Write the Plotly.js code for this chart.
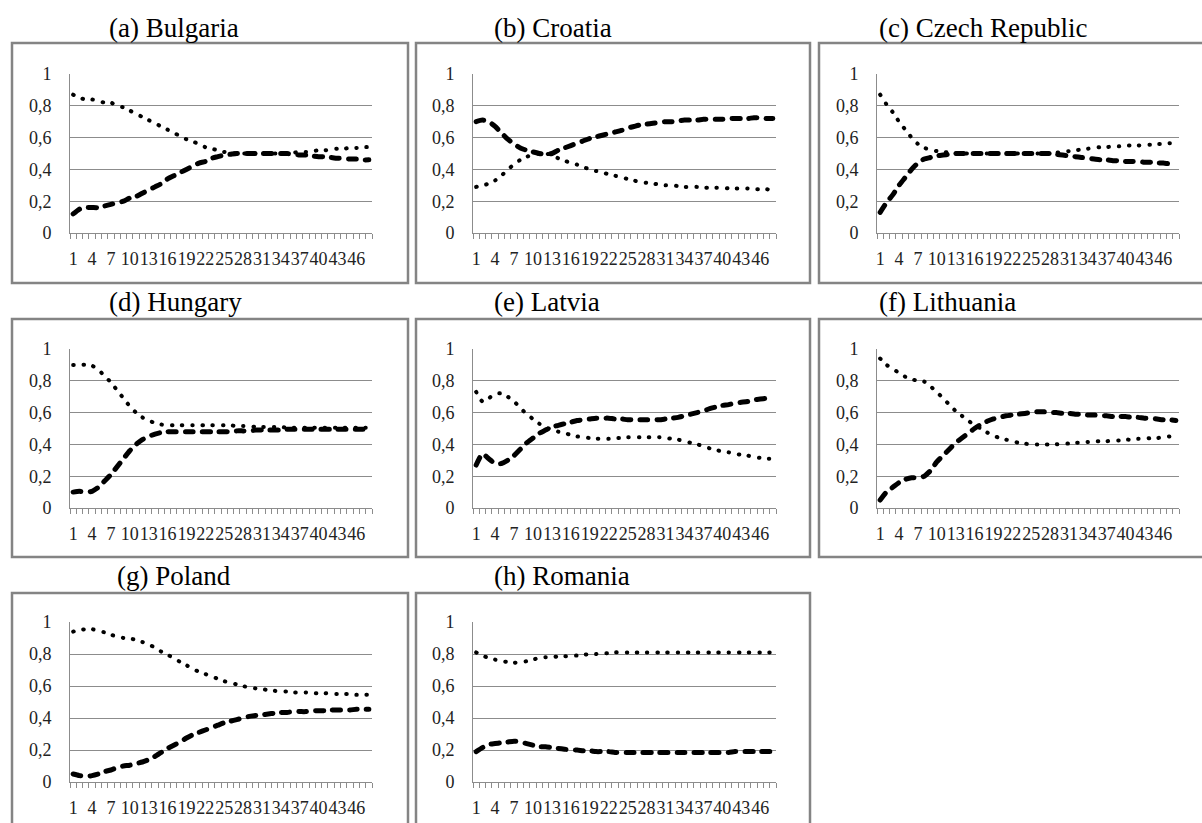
<!DOCTYPE html>
<html>
<head>
<meta charset="utf-8">
<script src="https://cdn.plot.ly/plotly-3.0.1.min.js"></script>
<style>
html,body{margin:0;padding:0;background:#fff;}
#chart{width:1202px;height:823px;}
.js-line{stroke-linecap:round !important;}
</style>
</head>
<body>
<div id="chart"></div>
<script>
// ---- data ----
const periods = [1,2,3,4,5,6,7,8,9,10,11,12,13,14,15,16,17,18,19,20,21,22,23,24,25,26,27,28,29,30,31,32,33,34,35,36,37,38,39,40,41,42,43,44,45,46,47,48];
const xTickVals = [1,4,7,10,13,16,19,22,25,28,31,34,37,40,43,46];
const xTickText = ["1","4","7","10","13","16","19","22","25","28","31","34","37","40","43","46"];
const yTickVals = [0,0.2,0.4,0.6,0.8,1];
const yTickText = ["0","0,2","0,4","0,6","0,8","1"];

const titles = ["(a) Bulgaria","(b) Croatia","(c) Czech Republic","(d) Hungary","(e) Latvia","(f) Lithuania","(g) Poland","(h) Romania"];

const bulgariaDotted = [0.87,0.85,0.84,0.84,0.83,0.82,0.82,0.80,0.79,0.77,0.75,0.73,0.71,0.69,0.67,0.65,0.63,0.61,0.59,0.575,0.56,0.54,0.53,0.52,0.51,0.505,0.50,0.50,0.50,0.50,0.50,0.50,0.50,0.50,0.50,0.505,0.51,0.51,0.515,0.52,0.52,0.525,0.53,0.53,0.535,0.535,0.54,0.54];
const bulgariaDashed = [0.12,0.15,0.16,0.16,0.16,0.17,0.18,0.19,0.20,0.22,0.23,0.25,0.27,0.29,0.31,0.34,0.36,0.38,0.40,0.42,0.44,0.45,0.47,0.48,0.49,0.495,0.50,0.50,0.50,0.50,0.50,0.50,0.50,0.50,0.50,0.495,0.49,0.49,0.485,0.48,0.48,0.475,0.47,0.47,0.465,0.465,0.46,0.46];

const croatiaDotted = [0.29,0.30,0.31,0.33,0.36,0.40,0.43,0.46,0.48,0.49,0.50,0.50,0.49,0.47,0.455,0.44,0.43,0.415,0.40,0.39,0.38,0.37,0.36,0.35,0.34,0.33,0.32,0.315,0.31,0.305,0.30,0.30,0.295,0.29,0.29,0.29,0.285,0.285,0.285,0.285,0.28,0.28,0.28,0.28,0.275,0.275,0.275,0.27];
const croatiaDashed = [0.70,0.71,0.70,0.67,0.63,0.59,0.56,0.535,0.52,0.51,0.50,0.495,0.50,0.52,0.535,0.55,0.565,0.58,0.595,0.605,0.615,0.625,0.635,0.645,0.66,0.67,0.68,0.685,0.69,0.695,0.70,0.70,0.705,0.71,0.71,0.71,0.715,0.715,0.715,0.715,0.72,0.72,0.72,0.72,0.725,0.725,0.72,0.72];

const czechDotted = [0.87,0.81,0.76,0.70,0.65,0.60,0.56,0.535,0.525,0.515,0.51,0.505,0.50,0.50,0.50,0.50,0.50,0.50,0.50,0.50,0.50,0.50,0.50,0.50,0.50,0.50,0.50,0.50,0.505,0.51,0.515,0.52,0.525,0.53,0.535,0.54,0.54,0.545,0.545,0.55,0.55,0.55,0.555,0.555,0.56,0.56,0.565,0.565];
const czechDashed = [0.13,0.19,0.24,0.30,0.35,0.40,0.44,0.465,0.475,0.485,0.49,0.495,0.50,0.50,0.50,0.50,0.50,0.50,0.50,0.50,0.50,0.50,0.50,0.50,0.50,0.50,0.50,0.50,0.495,0.49,0.485,0.48,0.475,0.47,0.465,0.46,0.46,0.455,0.455,0.45,0.45,0.45,0.445,0.445,0.44,0.44,0.435,0.435];

const hungaryDotted = [0.90,0.90,0.90,0.895,0.87,0.83,0.79,0.74,0.69,0.64,0.60,0.57,0.55,0.535,0.525,0.52,0.52,0.52,0.52,0.52,0.52,0.52,0.52,0.52,0.52,0.52,0.515,0.515,0.515,0.51,0.51,0.51,0.51,0.51,0.505,0.505,0.505,0.505,0.505,0.505,0.505,0.505,0.505,0.505,0.505,0.505,0.505,0.505];
const hungaryDashed = [0.10,0.105,0.10,0.105,0.13,0.17,0.21,0.26,0.31,0.36,0.40,0.43,0.45,0.465,0.475,0.48,0.48,0.48,0.48,0.48,0.48,0.48,0.48,0.48,0.48,0.48,0.485,0.485,0.485,0.49,0.49,0.49,0.49,0.49,0.495,0.495,0.495,0.495,0.495,0.495,0.495,0.495,0.495,0.495,0.495,0.495,0.495,0.495];

const latviaDotted = [0.73,0.67,0.69,0.72,0.72,0.70,0.67,0.63,0.59,0.56,0.53,0.51,0.49,0.48,0.47,0.46,0.45,0.445,0.44,0.435,0.435,0.435,0.44,0.44,0.445,0.445,0.445,0.445,0.445,0.445,0.44,0.435,0.43,0.42,0.41,0.40,0.39,0.375,0.365,0.355,0.35,0.34,0.335,0.33,0.32,0.315,0.31,0.31];
const latviaDashed = [0.27,0.34,0.31,0.28,0.28,0.30,0.33,0.37,0.41,0.44,0.47,0.49,0.51,0.52,0.53,0.54,0.55,0.555,0.56,0.565,0.565,0.565,0.56,0.56,0.555,0.555,0.555,0.555,0.555,0.555,0.56,0.565,0.57,0.58,0.59,0.60,0.61,0.625,0.635,0.645,0.65,0.66,0.665,0.67,0.68,0.685,0.69,0.69];

const lithuaniaDotted = [0.94,0.90,0.875,0.85,0.825,0.81,0.80,0.795,0.765,0.73,0.69,0.65,0.61,0.58,0.55,0.52,0.50,0.475,0.455,0.44,0.43,0.42,0.41,0.405,0.40,0.40,0.40,0.40,0.40,0.405,0.405,0.41,0.41,0.415,0.42,0.42,0.42,0.425,0.425,0.43,0.43,0.435,0.435,0.44,0.44,0.445,0.45,0.455];
const lithuaniaDashed = [0.05,0.10,0.13,0.16,0.18,0.19,0.19,0.20,0.235,0.29,0.33,0.37,0.41,0.44,0.47,0.50,0.525,0.545,0.56,0.57,0.58,0.585,0.59,0.595,0.60,0.605,0.605,0.60,0.60,0.595,0.595,0.59,0.59,0.585,0.585,0.58,0.58,0.575,0.575,0.575,0.57,0.57,0.565,0.565,0.56,0.555,0.555,0.55];

const polandDotted = [0.94,0.95,0.955,0.955,0.945,0.935,0.92,0.91,0.90,0.895,0.89,0.875,0.86,0.84,0.815,0.795,0.775,0.75,0.73,0.705,0.69,0.675,0.66,0.645,0.63,0.62,0.61,0.60,0.59,0.585,0.58,0.575,0.57,0.565,0.565,0.56,0.56,0.56,0.555,0.555,0.555,0.55,0.55,0.55,0.55,0.545,0.545,0.545];
const polandDashed = [0.05,0.04,0.035,0.04,0.05,0.065,0.075,0.09,0.10,0.105,0.115,0.125,0.14,0.16,0.185,0.21,0.23,0.25,0.275,0.295,0.31,0.325,0.34,0.355,0.37,0.38,0.39,0.40,0.41,0.415,0.42,0.425,0.43,0.435,0.435,0.44,0.44,0.44,0.445,0.445,0.445,0.45,0.45,0.45,0.45,0.455,0.455,0.455];

const romaniaDotted = [0.81,0.79,0.775,0.765,0.755,0.75,0.745,0.75,0.755,0.765,0.775,0.78,0.78,0.785,0.785,0.79,0.79,0.795,0.80,0.80,0.805,0.805,0.81,0.81,0.81,0.81,0.81,0.81,0.81,0.81,0.81,0.81,0.81,0.81,0.81,0.81,0.81,0.81,0.81,0.81,0.81,0.81,0.81,0.81,0.81,0.81,0.81,0.81];
const romaniaDashed = [0.19,0.215,0.235,0.24,0.245,0.25,0.255,0.25,0.24,0.23,0.22,0.22,0.215,0.21,0.205,0.20,0.20,0.195,0.195,0.19,0.19,0.19,0.185,0.185,0.185,0.185,0.185,0.185,0.185,0.185,0.185,0.185,0.185,0.185,0.185,0.185,0.185,0.185,0.185,0.185,0.185,0.19,0.19,0.19,0.19,0.19,0.19,0.19];

const dottedSeries = [bulgariaDotted,croatiaDotted,czechDotted,hungaryDotted,latviaDotted,lithuaniaDotted,polandDotted,romaniaDotted];
const dashedSeries = [bulgariaDashed,croatiaDashed,czechDashed,hungaryDashed,latviaDashed,lithuaniaDashed,polandDashed,romaniaDashed];

// ---- layout geometry (pixels) ----
const W = 1202, H = 823;
const colPlot = [[70,372],[473,776],[877,1179]];
const rowPlot = [[74,233],[349,508],[622,782]];
const colBox = [[12,408],[416,810],[819,1215]];
const rowBox = [[43,283],[319,557],[593,833]];
const titleX = [[107,492,877],[107,492,877],[115,492,877]];
const titleBaseline = [37,311,585];

const FONT = "'Liberation Serif', 'Times New Roman', serif";
const GRID = "#8c8c8c";

const data = [];
const layout = {
  width: W, height: H,
  margin: {l:0,r:0,t:0,b:0},
  paper_bgcolor: "#fff", plot_bgcolor: "#fff",
  showlegend: false,
  hovermode: false,
  font: {family: FONT, size: 18, color: "#222"},
  shapes: [], annotations: []
};

const minorVals = [];
for (let k = 0; k <= periods.length; k++) minorVals.push(periods[0] - 0.5 + k);

titles.forEach((t, i) => {
  const row = Math.floor(i / 3), col = i % 3;
  const n = i + 1;
  const xa = "x" + (n === 1 ? "" : n), ya = "y" + (n === 1 ? "" : n);
  data.push({
    x: periods, y: dashedSeries[i], xaxis: xa, yaxis: ya, mode: "lines",
    line: {color: "#000", width: 5, dash: "8px,9px", shape: "spline", smoothing: 0.6}
  });
  data.push({
    x: periods, y: dottedSeries[i], xaxis: xa, yaxis: ya, mode: "lines",
    line: {color: "#000", width: 4, dash: "0.5px,9.7px", shape: "spline", smoothing: 0.6}
  });
  const xk = "xaxis" + (n === 1 ? "" : n), yk = "yaxis" + (n === 1 ? "" : n);
  layout[xk] = {
    domain: [colPlot[col][0] / W, colPlot[col][1] / W],
    anchor: ya, range: [0.5, periods.length + 0.5], type: "linear",
    tickmode: "array", tickvals: xTickVals, ticktext: xTickText,
    ticks: "", showgrid: false, zeroline: false, tickangle: 0,
    showline: true, linecolor: GRID, linewidth: 1,
    tickfont: {family: FONT, size: 18, color: "#222"},
    ticklabelstandoff: 9,
    minor: {tickmode: "array", tickvals: minorVals, ticks: "outside", ticklen: 5, tickcolor: GRID, tickwidth: 1, showgrid: false},
    fixedrange: true
  };
  layout[yk] = {
    domain: [(H - rowPlot[row][1]) / H, (H - rowPlot[row][0]) / H],
    anchor: xa, range: [0, 1],
    tickmode: "array", tickvals: yTickVals, ticktext: yTickText,
    ticks: "", showgrid: true, gridcolor: GRID, gridwidth: 1, zeroline: false,
    showline: true, linecolor: GRID, linewidth: 1,
    tickfont: {family: FONT, size: 18, color: "#222"},
    ticklabelstandoff: 14,
    fixedrange: true
  };
  layout.shapes.push({
    type: "rect", xref: "paper", yref: "paper",
    x0: colBox[col][0] / W, x1: colBox[col][1] / W,
    y0: (H - rowBox[row][1]) / H, y1: (H - rowBox[row][0]) / H,
    line: {color: "#848484", width: 2.5}, fillcolor: "rgba(0,0,0,0)", layer: "below"
  });
  layout.annotations.push({
    text: t, xref: "paper", yref: "paper", showarrow: false,
    x: titleX[row][col] / W, xanchor: "left",
    y: (H - (titleBaseline[row] - 9)) / H, yanchor: "middle",
    font: {family: FONT, size: 27, color: "#000"}
  });
});

Plotly.newPlot("chart", data, layout, {displayModeBar: false, staticPlot: true});
</script>
</body>
</html>
